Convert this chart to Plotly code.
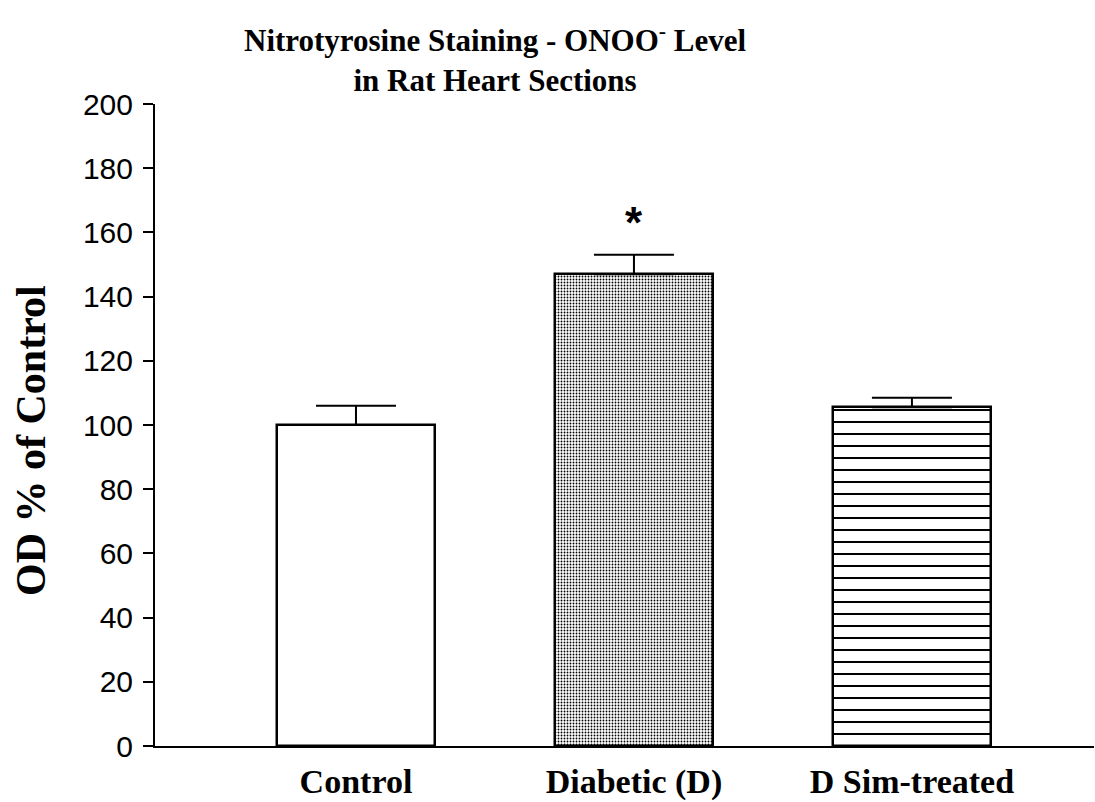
import plotly.graph_objects as go

# Group labels and measured values (OD as % of control)
groups = ["Control", "Diabetic (D)", "D Sim-treated"]
means = [100.0, 147.0, 105.5]
sem = [6.0, 6.0, 3.0]
significance = ["", "*", ""]

y_ticks = [0, 20, 40, 60, 80, 100, 120, 140, 160, 180, 200]

# Plot-area geometry in pixels (used to place free-floating text)
W, H = 1095, 802
L, R, T, B = 155, 1, 104, 56
pw, ph = W - L - R, H - T - B


def px_to_paper_x(px):
    return (px - L) / pw


def px_to_paper_y(py):
    return (H - B - py) / ph


fig = go.Figure()

patterns = [
    dict(shape="", fillmode="replace"),
    dict(shape=".", size=3, solidity=0.3, fgcolor="black", bgcolor="white", fillmode="replace"),
    dict(shape="-", size=12, solidity=0.17, fgcolor="black", bgcolor="white", fillmode="replace"),
]

for i, g in enumerate(groups):
    fig.add_trace(go.Bar(
        x=[g], y=[means[i]],
        width=0.568,
        marker=dict(color="white", line=dict(color="black", width=2.5),
                    pattern=patterns[i]),
        error_y=dict(type="data", array=[sem[i]], arrayminus=[0], symmetric=False,
                     color="black", thickness=2, width=40),
        showlegend=False,
    ))

# significance markers above the error bars
for g, m, s, sig in zip(groups, means, sem, significance):
    if sig:
        fig.add_annotation(x=g, y=m + s, yref="y", xref="x", text=f"<b>{sig}</b>",
                           showarrow=False, yanchor="bottom", yshift=6,
                           font=dict(family="Liberation Sans", size=44, color="black"))

# chart title
fig.add_annotation(
    x=px_to_paper_x(495), y=px_to_paper_y(58), xref="paper", yref="paper",
    text="<b>Nitrotyrosine Staining - ONOO<sup>-</sup> Level<br>in Rat Heart Sections</b>",
    showarrow=False, xanchor="center", yanchor="middle",
    font=dict(family="Liberation Serif", size=31, color="black"),
)

# y-axis title
fig.add_annotation(
    x=px_to_paper_x(31), y=px_to_paper_y(441), xref="paper", yref="paper",
    text="<b>OD % of Control</b>", textangle=-90, showarrow=False,
    xanchor="center", yanchor="middle",
    font=dict(family="Liberation Serif", size=42, color="black"),
)

fig.update_layout(
    width=W, height=H,
    margin=dict(l=L, r=R, t=T, b=B, pad=0, autoexpand=False),
    plot_bgcolor="white", paper_bgcolor="white",
    bargap=0,
)

fig.update_xaxes(
    type="category", range=[-0.723, 2.655], automargin=False,
    showline=True, linecolor="black", linewidth=2,
    ticks="", showgrid=False, zeroline=False,
    tickfont=dict(family="Liberation Serif", size=34, color="black"),
    ticklabelstandoff=4,
    tickvals=groups, ticktext=[f"<b>{g}</b>" for g in groups],
)

fig.update_yaxes(
    range=[0, 200], tickvals=y_ticks, automargin=False,
    showline=True, linecolor="black", linewidth=2,
    ticks="outside", ticklen=10, tickwidth=2, tickcolor="black",
    showgrid=False, zeroline=False,
    tickfont=dict(family="Liberation Sans", size=30, color="black"),
    ticklabelstandoff=4,
)

fig.write_html("out.html")
